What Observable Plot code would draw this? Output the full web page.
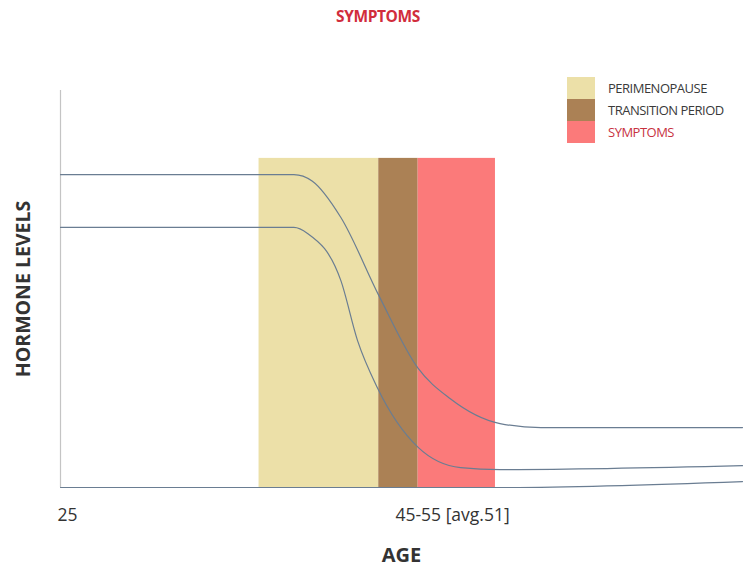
<!DOCTYPE html>
<html>
<head>
<meta charset="utf-8">
<script src="https://cdn.jsdelivr.net/npm/d3@7"></script>
<script src="https://cdn.jsdelivr.net/npm/@observablehq/plot@0.6"></script>
<style>
  html, body { margin: 0; padding: 0; background: #fff; }
  #wrap { position: relative; width: 756px; height: 567px; font-family: "Open Sans", sans-serif; }
  #chart { position: absolute; left: 0; top: 0; }
  #title { position: absolute; top: 5px; left: 0; width: 756px; text-align: center;
           color: #d12d3c; font-weight: bold; font-size: 15.5px; letter-spacing: -0.4px; }
  #legend { position: absolute; left: 567px; top: 77px; }
  .item { display: flex; align-items: center; height: 22px; }
  .sw { width: 28px; height: 22px; margin-right: 13px; }
  .lab { font-size: 13px; color: #3a3a3a; letter-spacing: -0.5px; }
  [aria-label="y-axis label"] text, [aria-label="x-axis label"] text { font-weight: bold; }
</style>
</head>
<body>
<div id="wrap">
  <div id="chart"></div>
  <div id="title"></div>
  <div id="legend"></div>
</div>
<script>
// ---- data ----
const titleText = "SYMPTOMS";
const xLabel = "AGE";
const yLabel = "HORMONE LEVELS";
const xTickValues = [25, 51];
const xTickLabels = ["25", "45-55 [avg.51]"];

const phaseNames = ["PERIMENOPAUSE", "TRANSITION PERIOD", "SYMPTOMS"];
const phaseStart = [38.1, 46.0, 48.6];
const phaseEnd = [46.0, 48.6, 53.7];
const phaseTop = [82.9, 82.9, 82.9];
const phaseColors = ["#ece0a8", "#ab8155", "#fb7a7a"];
const phaseTextColors = ["#3a3a3a", "#3a3a3a", "#c8323f"];

// hormone curves (age, level)
const upperAge   = [25, 40.4, 41.6, 43.5, 46.0, 48.6, 50.7, 54.0, 56.7, 70];
const upperLevel = [78.8, 78.8, 77.2, 68.0, 48.4, 30.0, 22.4, 16.1, 15.1, 15.1];
const lowerAge   = [25, 40.4, 41.3, 43.5, 44.6, 45.9, 48.6, 51.4, 54.0, 70];
const lowerLevel = [65.5, 65.5, 64.0, 52.1, 37.0, 25.2, 10.1, 5.0, 4.5, 5.5];
const baseAge    = [25, 54.0, 70];
const baseLevel  = [0, 0, 1.5];

// ---- build tables ----
const phases = phaseNames.map((n, i) => ({name: n, x1: phaseStart[i], x2: phaseEnd[i], top: phaseTop[i], color: phaseColors[i]}));
const toSeries = (ages, levels, s) => ages.map((a, i) => ({age: a, level: levels[i], series: s}));
const curves = [
  ...toSeries(upperAge, upperLevel, "upper"),
  ...toSeries(lowerAge, lowerLevel, "lower"),
  ...toSeries(baseAge, baseLevel, "base")
];

const lineColor = "#6a7d92";

const plot = Plot.plot({
  width: 756,
  height: 567,
  marginLeft: 60,
  marginRight: 14,
  marginTop: 90,
  marginBottom: 80,
  style: {fontFamily: "Open Sans, sans-serif", fontSize: "15px", color: "#333", background: "transparent"},
  x: {domain: [25, 70]},
  y: {domain: [0, 100]},
  marks: [
    Plot.rectY(phases, {x1: "x1", x2: "x2", y1: 0, y2: "top", fill: "color"}),
    Plot.ruleX([25], {y1: 0, y2: 100, stroke: "#c4c4c4", strokeWidth: 1.2}),
    Plot.line(curves, {x: "age", y: "level", z: "series", curve: "monotone-x", stroke: lineColor, strokeWidth: 1.2}),
    Plot.axisY({ticks: [], tickSize: 0, label: yLabel, labelAnchor: "center", labelArrow: false, labelOffset: 44, fontSize: 19.5, dy: 8, dx: -9}),
    Plot.axisX([xTickValues[0]], {tickSize: 0, tickPadding: 21, textAnchor: "start", dx: -3,
      tickFormat: (d) => xTickLabels[xTickValues.indexOf(d)], label: null, fontSize: 17.5}),
    Plot.axisX([xTickValues[1]], {tickSize: 0, tickPadding: 21, dx: -2,
      tickFormat: (d) => xTickLabels[xTickValues.indexOf(d)], label: null, fontSize: 17.5}),
    Plot.axisX({ticks: [], tickSize: 0, label: xLabel, labelAnchor: "center", labelArrow: false, labelOffset: 74, fontSize: 20})
  ]
});
document.getElementById("chart").appendChild(plot);

// title
document.getElementById("title").textContent = titleText;

// legend
const legend = document.getElementById("legend");
phaseNames.forEach((n, i) => {
  const item = document.createElement("div");
  item.className = "item";
  const sw = document.createElement("div");
  sw.className = "sw";
  sw.style.background = phaseColors[i];
  const lab = document.createElement("span");
  lab.className = "lab";
  lab.style.color = phaseTextColors[i];
  lab.textContent = n;
  item.appendChild(sw);
  item.appendChild(lab);
  legend.appendChild(item);
});
</script>
</body>
</html>
